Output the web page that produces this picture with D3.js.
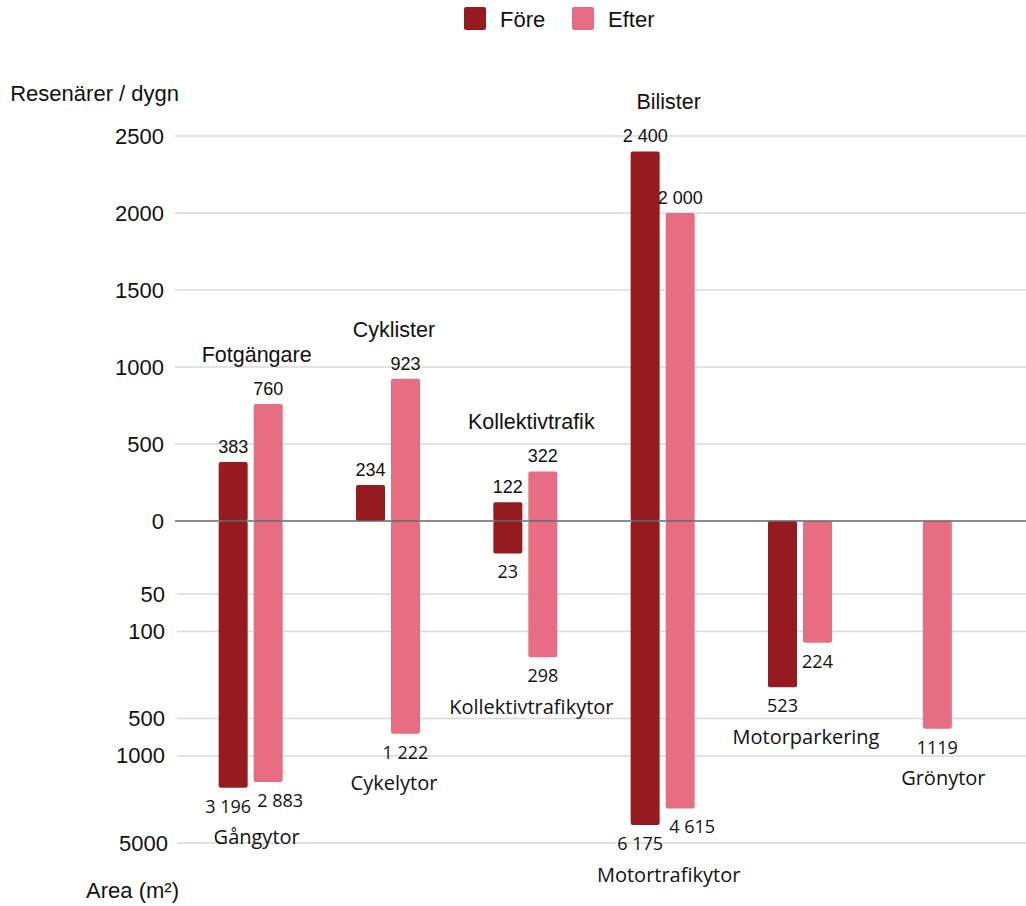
<!DOCTYPE html>
<html>
<head>
<meta charset="utf-8">
<script src="https://cdn.jsdelivr.net/npm/d3@7/dist/d3.min.js"></script>
<style>
  html, body { margin: 0; padding: 0; background: #fff; }
  svg { display: block; }
</style>
</head>
<body>
<div id="chart"></div>
<script>
// ---------- data ----------
const series = ["Före", "Efter"];
const topNames = ["Fotgängare", "Cyklister", "Kollektivtrafik", "Bilister", "", ""];
const areaNames = ["Gångytor", "Cykelytor", "Kollektivtrafikytor", "Motortrafikytor", "Motorparkering", "Grönytor"];
const travellersBefore = [383, 234, 122, 2400, null, null];
const travellersAfter  = [760, 923, 322, 2000, null, null];
const areaBefore = [3196, null, 23, 6175, 523, null];
const areaAfter  = [2883, 1222, 298, 4615, 224, 1119];
const topTicks = [0, 500, 1000, 1500, 2000, 2500];
const bottomTicks = [50, 100, 500, 1000, 5000];
const unformattedLabels = [1119];
const topAxisTitle = "Resenärer / dygn";
const bottomAxisTitle = "Area (m²)";

// ---------- setup ----------
const W = 1026, H = 906;
const colors = { "Före": "#961b21", "Efter": "#e76d82" };
const sansA = "'Liberation Sans', Arial, Helvetica, sans-serif";
const sansB = "'Open Sans', 'Noto Sans', sans-serif";

const svg = d3.select("#chart").append("svg").attr("width", W).attr("height", H);

const sv = d3.formatLocale({ decimal: ",", thousands: "\u00a0", grouping: [3], currency: ["", " kr"] });
const fmtNum = sv.format(",d");
const fmt = v => unformattedLabels.includes(v) ? String(v) : fmtNum(v).replace(/\u00a0/g, " ");

const plotLeft = 175, plotRight = 1026;
const zeroY = 521;

const yTop = d3.scaleLinear().domain([0, 2500]).range([zeroY, 136]);
const yBar = d3.scaleSymlog().constant(30).domain([0, 6175]).range([zeroY, 825]);
const yAxisBottom = d3.scaleLog().domain([50, 5000]).range([594, 843]);

const x = d3.scaleBand().domain(areaNames).range([182, 1006]).paddingInner(0);
const xs = d3.scaleBand().domain(series).range([-32, 32]).paddingInner(0.1714);
const bw = xs.bandwidth();

// records
const rows = areaNames.map((a, i) => ({
  key: a, topName: topNames[i],
  top: { "Före": travellersBefore[i], "Efter": travellersAfter[i] },
  bot: { "Före": areaBefore[i], "Efter": areaAfter[i] }
}));
rows.forEach(r => {
  r.present = series.filter(s => r.top[s] != null || r.bot[s] != null);
  r.cx = x(r.key) + x.bandwidth() / 2;
});
function barX(r, s) {
  if (r.present.length === 1) return r.cx - bw / 2;
  return r.cx + xs(s);
}

// ---------- gridlines ----------
const grid = svg.append("g");
grid.selectAll("line.gt").data(topTicks.filter(t => t > 0)).join("line")
  .attr("x1", plotLeft).attr("x2", plotRight)
  .attr("y1", d => yTop(d)).attr("y2", d => yTop(d))
  .attr("stroke", "#dadada").attr("stroke-width", 1.6);
grid.selectAll("line.gb").data(bottomTicks).join("line")
  .attr("x1", plotLeft + 2).attr("x2", plotRight)
  .attr("y1", d => yAxisBottom(d)).attr("y2", d => yAxisBottom(d))
  .attr("stroke", "#dadada").attr("stroke-width", 1.6);

// tick labels
const tickG = svg.append("g").attr("font-family", sansA).attr("font-size", 22).attr("fill", "#111");
tickG.selectAll("text.tt").data(topTicks).join("text")
  .attr("x", 164).attr("y", d => yTop(d)).attr("text-anchor", "end")
  .attr("dominant-baseline", "central").text(d => d);
tickG.selectAll("text.tb").data(bottomTicks).join("text")
  .attr("x", d => d >= 5000 ? 168 : 165).attr("y", d => yAxisBottom(d)).attr("text-anchor", "end")
  .attr("dominant-baseline", "central").text(d => d);

// axis titles
svg.append("text").attr("x", 179).attr("y", 93).attr("text-anchor", "end")
  .attr("dominant-baseline", "central").attr("font-family", sansA).attr("font-size", 22)
  .attr("fill", "#111").text(topAxisTitle);
svg.append("text").attr("x", 179).attr("y", 890).attr("text-anchor", "end")
  .attr("dominant-baseline", "central").attr("font-family", sansA).attr("font-size", 22)
  .attr("fill", "#111").text(bottomAxisTitle);

// ---------- bars ----------
const barG = svg.append("g");
const topBars = [], botBars = [];
rows.forEach(r => series.forEach(s => {
  if (r.top[s] != null) topBars.push({ r, s, v: r.top[s] });
  if (r.bot[s] != null) botBars.push({ r, s, v: r.bot[s] });
}));

barG.selectAll("rect.top").data(topBars).join("rect")
  .attr("x", d => barX(d.r, d.s)).attr("width", bw)
  .attr("y", d => yTop(d.v)).attr("height", d => zeroY - yTop(d.v))
  .attr("rx", 2).attr("fill", d => colors[d.s]);
barG.selectAll("rect.bot").data(botBars).join("rect")
  .attr("x", d => barX(d.r, d.s)).attr("width", bw)
  .attr("y", zeroY).attr("height", d => yBar(d.v) - zeroY)
  .attr("rx", 2).attr("fill", d => colors[d.s]);

// zero line
svg.append("line").attr("x1", plotLeft).attr("x2", plotRight)
  .attr("y1", zeroY).attr("y2", zeroY).attr("stroke", "#666").attr("stroke-width", 1.5);

// ---------- value labels ----------
const lblG = svg.append("g");
lblG.selectAll("text.vt").data(topBars).join("text")
  .attr("x", d => barX(d.r, d.s) + bw / 2)
  .attr("y", d => yTop(d.v) - 15)
  .attr("text-anchor", "middle").attr("dominant-baseline", "central")
  .attr("font-family", sansA).attr("font-size", 18).attr("fill", "#111")
  .text(d => fmt(d.v));

function botDx(d) {
  const r = d.r;
  if (r.bot["Före"] != null && r.bot["Efter"] != null &&
      Math.abs(yBar(r.bot["Före"]) - yBar(r.bot["Efter"])) < 30) {
    return d.s === "Före" ? -5 : 12;
  }
  return 0;
}
lblG.selectAll("text.vb").data(botBars).join("text")
  .attr("x", d => barX(d.r, d.s) + bw / 2 + botDx(d))
  .attr("y", d => yBar(d.v) + 18)
  .attr("text-anchor", "middle").attr("dominant-baseline", "central")
  .attr("font-family", sansB).attr("font-size", 18).attr("fill", "#111")
  .text(d => fmt(d.v));

// ---------- category labels ----------
rows.forEach(r => {
  const tops = series.map(s => r.top[s]).filter(v => v != null);
  if (r.topName && tops.length) {
    const y = yTop(d3.max(tops)) - 15 - 34;
    lblG.append("text").attr("x", r.cx + 6).attr("y", y)
      .attr("text-anchor", "middle").attr("dominant-baseline", "central")
      .attr("font-family", sansA).attr("font-size", 21.5).attr("fill", "#111")
      .text(r.topName);
  }
  const bots = series.map(s => r.bot[s]).filter(v => v != null);
  if (bots.length) {
    const y = yBar(d3.max(bots)) + 18 + 31;
    lblG.append("text").attr("x", r.cx + 6).attr("y", y)
      .attr("text-anchor", "middle").attr("dominant-baseline", "central")
      .attr("font-family", sansB).attr("font-size", 20).attr("fill", "#111")
      .text(r.key);
  }
});

// ---------- legend ----------
const leg = svg.append("g").attr("transform", "translate(464,7)");
const li = leg.selectAll("g").data(series).join("g")
  .attr("transform", (d, i) => `translate(${i * 108},0)`);
li.append("rect").attr("width", 22).attr("height", 23).attr("rx", 2)
  .attr("fill", d => colors[d]);
li.append("text").attr("x", 36 + 0).attr("y", 12).attr("dominant-baseline", "central")
  .attr("font-family", sansA).attr("font-size", 22).attr("fill", "#111")
  .text(d => d);
</script>
</body>
</html>
